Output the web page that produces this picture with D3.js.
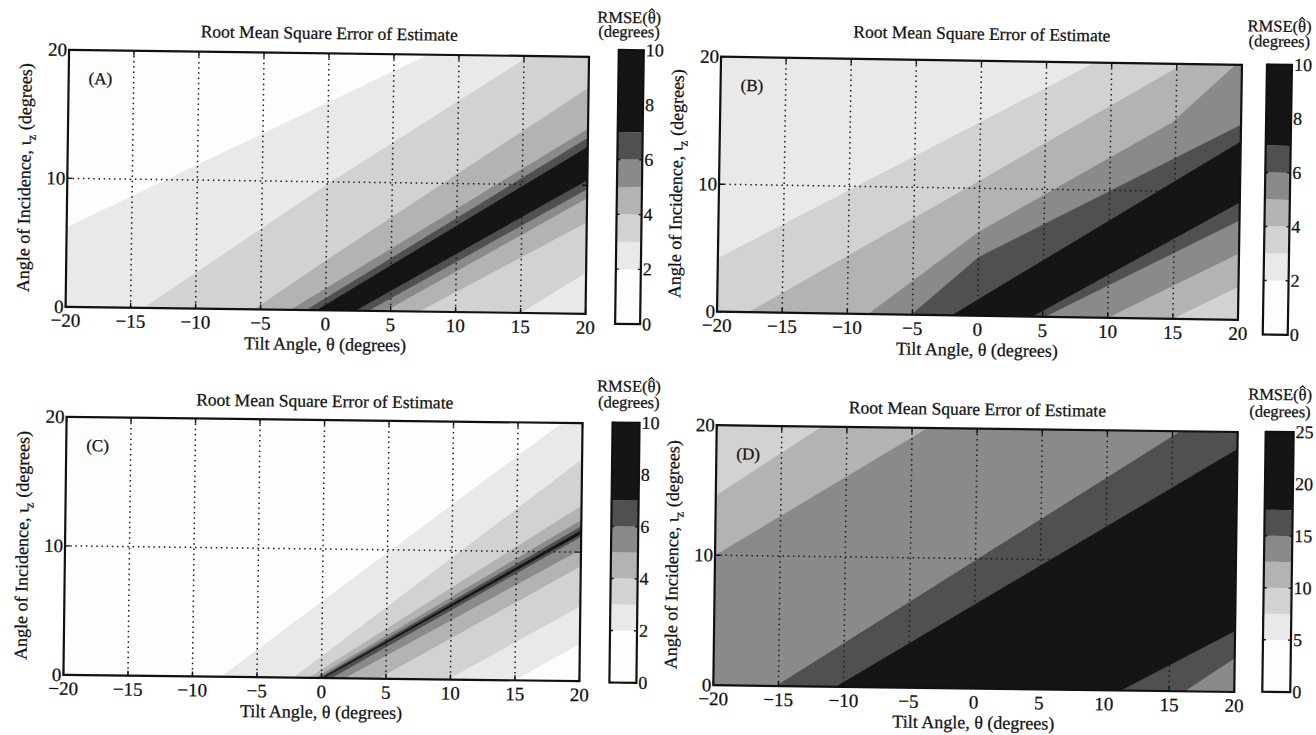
<!DOCTYPE html>
<html>
<head>
<meta charset="utf-8">
<script src="https://cdn.jsdelivr.net/npm/d3@7"></script>
<style>
  body { margin: 0; background: #ffffff; }
  text { font-family: "Liberation Serif", "Times New Roman", serif; fill: #111; stroke: #111; stroke-width: 0.25px; }
</style>
</head>
<body>
<svg id="fig" width="1316" height="735"></svg>
<script>
// ---------------- data ----------------
const thetaTicks = [-20, -15, -10, -5, 0, 5, 10, 15, 20];
const iotaTicks = [0, 10, 20];
const thetaGrid = [-15, -10, -5, 0, 5, 10, 15];
const iotaGrid = [10];

// grey level of each filled band, lowest band first
const shades = ["#fdfdfd", "#e9e9e9", "#d2d2d2", "#b3b3b3", "#8a8a8a", "#505050", "#151515"];

// contour levels (degrees) for panels A-C and D
const levelsABC = [2, 3, 4, 5, 6, 7];
const levelsD = [5, 7.5, 10, 12.5, 15, 17.5];
const cbarTicksABC = [0, 2, 4, 6, 8, 10];
const cbarTicksD = [0, 5, 10, 15, 20, 25];
const cbarMaxABC = 10;
const cbarMaxD = 25;

// For every level: where the RMSE crosses that level on the upper-left side
// of the ridge (upper) and on the lower-right side (lower), as [theta, iota] points.
// null = that crossing lies outside the plotted window.
const upperA = [
  [[-20, 6.2], [7.6, 20]],
  [[-14, 0], [0, 9.8], [15.4, 20]],
  [[-5.5, 0], [0, 3.9], [20, 17.6]],
  [[-2.7, 0], [20, 14.4]],
  [[-1.5, 0], [20, 13.7]],
  [[-0.7, 0], [20, 13.0]]
];
const lowerA = [
  null,
  [[15, 0], [20, 3.2]],
  [[7.2, 0], [20, 7.1]],
  [[4.6, 0], [20, 9.0]],
  [[3.3, 0], [20, 9.7]],
  [[2.3, 0], [20, 10.4]]
];

const upperB = [
  null,
  [[-20, 4.2], [0, 15.2], [8.7, 20]],
  [[-17.6, 0], [0, 10.6], [15.5, 20]],
  [[-8.4, 0], [0, 6.6], [14.7, 15.4], [19.3, 19.8]],
  [[-5.1, 0], [0, 4.6], [20, 15.3]],
  [[-2.0, 0], [20, 14.0]]
];
const lowerB = [
  null,
  null,
  [[15, 0], [20, 2.6]],
  [[10, 0], [20, 5.2]],
  [[5.2, 0], [20, 7.8]],
  [[4.2, 0], [20, 9.2]]
];

const upperC = [
  [[-7.8, 0], [18.4, 20]],
  [[-2.2, 0], [20, 17.2]],
  [[-1.0, 0], [20, 13.6]],
  [[-0.5, 0], [20, 12.5]],
  [[-0.2, 0], [20, 12.0]],
  [[0, 0], [20, 11.7]]
];
const lowerC = [
  [[15, 0], [20, 2.9]],
  [[9.8, 0], [20, 5.8]],
  [[4.4, 0], [20, 8.9]],
  [[1.8, 0], [20, 10.2]],
  [[0.8, 0], [20, 11.2]],
  [[0.2, 0], [20, 11.4]]
];

const upperD = [
  null,
  null,
  [[-20, 14.6], [-11.9, 20]],
  [[-20, 10.0], [-3.8, 20]],
  [[-15.2, 0], [15.6, 20]],
  [[-10.6, 0], [20, 18.7]]
];
const lowerD = [
  null,
  null,
  null,
  null,
  [[16.2, 0], [20, 2.6]],
  [[11.3, 0], [20, 4.7]]
];

// ---------------- layout ----------------
const panels = [
  { tag: "(A)", levels: levelsABC, upper: upperA, lower: lowerA, cTicks: cbarTicksABC, cMax: cbarMaxABC,
    x0: 67.3, x1: 587.3, y0: 53.3, y1: 310.3, rot: 0.77,
    cb: { x0: 617, x1: 642, y0: 46, y1: 320 }, titleY: 39, cbX: 627, cbY1: 19, cbY2: 33 },
  { tag: "(B)", levels: levelsABC, upper: upperB, lower: lowerB, cTicks: cbarTicksABC, cMax: cbarMaxABC,
    x0: 719, x1: 1240, y0: 60.8, y1: 315.8, rot: 0.9,
    cb: { x0: 1265, x1: 1290, y0: 60, y1: 330 }, titleY: 39.5, cbX: 1277, cbY1: 27, cbY2: 42 },
  { tag: "(C)", levels: levelsABC, upper: upperC, lower: lowerC, cTicks: cbarTicksABC, cMax: cbarMaxABC,
    x0: 65, x1: 581, y0: 420, y1: 678, rot: 0.7,
    cb: { x0: 611, x1: 638, y0: 419, y1: 679 }, titleY: 407, cbX: 627, cbY1: 388, cbY2: 404 },
  { tag: "(D)", levels: levelsD, upper: upperD, lower: lowerD, cTicks: cbarTicksD, cMax: cbarMaxD,
    x0: 715, x1: 1236, y0: 428.6, y1: 688.6, rot: 0.75,
    cb: { x0: 1264, x1: 1292, y0: 428, y1: 688 }, titleY: 415, cbX: 1278, cbY1: 396, cbY2: 413 }
];

const svg = d3.select("#fig");
const defs = svg.append("defs");

// extend a crossing polyline past the window so its band can be clipped to it
function extendLine(pts, fallback) {
  if (!pts) return [[-60, fallback], [60, fallback]];
  const a = pts[0], b = pts[1], c = pts[pts.length - 2], d = pts[pts.length - 1];
  const s0 = (b[1] - a[1]) / (b[0] - a[0]);
  const s1 = (d[1] - c[1]) / (d[0] - c[0]);
  return [[-60, a[1] + s0 * (-60 - a[0])], ...pts, [60, d[1] + s1 * (60 - d[0])]];
}

panels.forEach((p, k) => {
  const cx = (p.x0 + p.x1) / 2, cy = (p.y0 + p.y1) / 2;
  const g = svg.append("g").attr("transform", `rotate(${p.rot},${cx},${cy})`);

  const x = d3.scaleLinear().domain([-20, 20]).range([p.x0, p.x1]);
  const y = d3.scaleLinear().domain([0, 20]).range([p.y1, p.y0]);

  const clipId = "clip" + k;
  defs.append("clipPath").attr("id", clipId)
    .append("rect").attr("x", p.x0).attr("y", p.y0)
    .attr("width", p.x1 - p.x0).attr("height", p.y1 - p.y0);

  const plot = g.append("g").attr("clip-path", `url(#${clipId})`);
  plot.append("rect").attr("x", p.x0).attr("y", p.y0)
    .attr("width", p.x1 - p.x0).attr("height", p.y1 - p.y0)
    .attr("fill", shades[0]);

  const line = d3.line().x(d => x(d[0])).y(d => y(d[1]));
  p.levels.forEach((lev, i) => {
    const up = extendLine(p.upper[i], 80);
    const lo = extendLine(p.lower[i], -80);
    const poly = up.concat(lo.slice().reverse());
    plot.append("path").attr("d", line(poly) + "Z").attr("fill", shades[i + 1]);
  });

  // dotted grid
  const grid = plot.append("g").attr("stroke", "#1a1a1a").attr("stroke-width", 1.5)
    .attr("stroke-dasharray", "1.5,3.7").attr("fill", "none");
  thetaGrid.forEach(t => grid.append("line")
    .attr("x1", x(t)).attr("x2", x(t)).attr("y1", p.y0).attr("y2", p.y1));
  iotaGrid.forEach(v => grid.append("line")
    .attr("x1", p.x0).attr("x2", p.x1).attr("y1", y(v)).attr("y2", y(v)));

  // axes with inward ticks and the frame
  const ax = g.append("g").attr("stroke", "#111").attr("stroke-width", 1.4);
  thetaTicks.forEach(t => {
    ax.append("line").attr("x1", x(t)).attr("x2", x(t)).attr("y1", p.y1).attr("y2", p.y1 - 5);
    ax.append("line").attr("x1", x(t)).attr("x2", x(t)).attr("y1", p.y0).attr("y2", p.y0 + 5);
  });
  iotaTicks.forEach(v => {
    ax.append("line").attr("x1", p.x0).attr("x2", p.x0 + 5).attr("y1", y(v)).attr("y2", y(v));
    ax.append("line").attr("x1", p.x1).attr("x2", p.x1 - 5).attr("y1", y(v)).attr("y2", y(v));
  });
  g.append("rect").attr("x", p.x0).attr("y", p.y0)
    .attr("width", p.x1 - p.x0).attr("height", p.y1 - p.y0)
    .attr("fill", "none").attr("stroke", "#111").attr("stroke-width", 2.2);

  // tick labels
  g.selectAll(null).data(thetaTicks).enter().append("text")
    .attr("x", d => x(d)).attr("y", p.y1 + 20).attr("text-anchor", "middle")
    .style("font-size", "19px").text(d => d < 0 ? "\u2212" + Math.abs(d) : d);
  g.selectAll(null).data(iotaTicks).enter().append("text")
    .attr("x", p.x0 - 2).attr("y", d => y(d)).attr("dy", "0.33em").attr("text-anchor", "end")
    .style("font-size", "19px").text(d => d);

  // axis titles
  g.append("text").attr("x", cx).attr("y", p.y1 + 40).attr("text-anchor", "middle")
    .style("font-size", "18px").text("Tilt Angle, \u03b8 (degrees)");
  const yl = g.append("text")
    .attr("transform", `translate(${p.x0 - 37},${cy}) rotate(-90)`)
    .attr("text-anchor", "middle").style("font-size", "18px");
  yl.append("tspan").text("Angle of Incidence, \u03b9");
  yl.append("tspan").attr("dy", 5).style("font-size", "13px").text("z");
  yl.append("tspan").attr("dy", -5).text(" (degrees)");

  g.append("text").attr("x", cx).attr("y", p.titleY).attr("text-anchor", "middle")
    .style("font-size", "17.5px").text("Root Mean Square Error of Estimate");
  g.append("text").attr("x", p.x0 + 20).attr("y", p.y0 + 34)
    .style("font-size", "17px").text(p.tag);

  // colour bar
  const cb = p.cb;
  const cy2 = d3.scaleLinear().domain([0, p.cMax]).range([cb.y1, cb.y0]);
  const edges = [0, ...p.levels, p.cMax];
  g.selectAll(null).data(shades).enter().append("rect")
    .attr("x", cb.x0).attr("width", cb.x1 - cb.x0)
    .attr("y", (d, i) => cy2(edges[i + 1])).attr("height", (d, i) => cy2(edges[i]) - cy2(edges[i + 1]))
    .attr("fill", d => d);
  const cbt = g.append("g").attr("stroke", "#111").attr("stroke-width", 1.4);
  p.cTicks.forEach(v => {
    cbt.append("line").attr("x1", cb.x0).attr("x2", cb.x0 + 3).attr("y1", cy2(v)).attr("y2", cy2(v));
    cbt.append("line").attr("x1", cb.x1).attr("x2", cb.x1 - 3).attr("y1", cy2(v)).attr("y2", cy2(v));
  });
  g.append("rect").attr("x", cb.x0).attr("y", cb.y0)
    .attr("width", cb.x1 - cb.x0).attr("height", cb.y1 - cb.y0)
    .attr("fill", "none").attr("stroke", "#111").attr("stroke-width", 2.2);
  g.selectAll(null).data(p.cTicks).enter().append("text")
    .attr("x", cb.x1 + 2).attr("y", d => cy2(d)).attr("dy", "0.33em")
    .style("font-size", "18px").text(d => d);

  // colour bar heading: RMSE(theta-hat), the hat drawn as a small chevron over the theta
  const rm = g.append("text").attr("x", p.cbX).attr("y", p.cbY1).attr("text-anchor", "middle")
    .style("font-size", "16.5px").text("RMSE(\u03b8)");
  const th = rm.node().getExtentOfChar(5);
  const hx = th.x + th.width / 2, hy = p.cbY1 - 14;
  g.append("path")
    .attr("d", `M${hx - 3},${hy + 2.5}L${hx},${hy - 0.5}L${hx + 3},${hy + 2.5}`)
    .attr("fill", "none").attr("stroke", "#111").attr("stroke-width", 1.1);
  g.append("text").attr("x", p.cbX).attr("y", p.cbY2).attr("text-anchor", "middle")
    .style("font-size", "16.5px").text("(degrees)");
});
</script>
</body>
</html>
